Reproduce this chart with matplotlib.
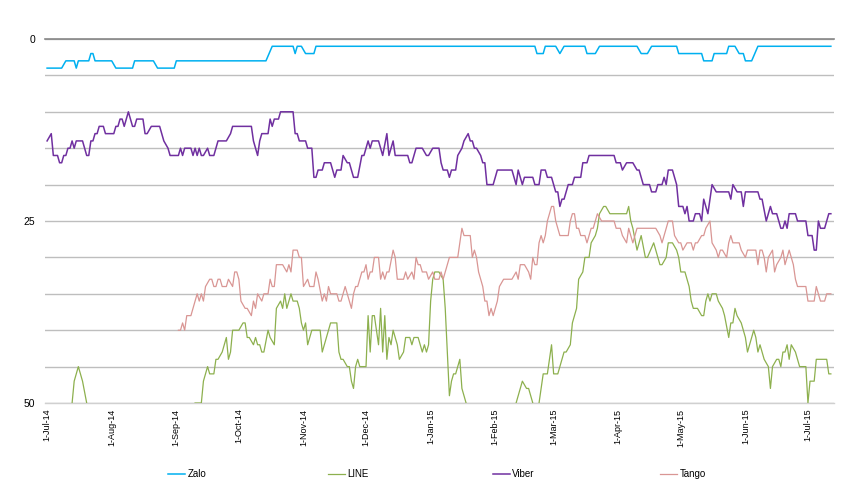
import numpy as np
import pandas as pd
import matplotlib
matplotlib.use("Agg")
import matplotlib.pyplot as plt

plt.rcParams['font.family'] = ['Liberation Sans', 'DejaVu Sans']

start = pd.Timestamp('2014-07-01')
end_day = 377.5

# ---- data: day offsets from 1-Jul-2014 and ranks ----
zalo_days = [0, 7, 9, 13, 14, 15, 20, 21, 22, 23, 31, 33, 41, 42, 51, 53, 61, 62, 105, 108, 118, 119, 120, 122,
             124, 128, 129, 234, 235, 238, 239, 244, 246, 248, 258, 259, 263, 265, 283, 285, 288, 290, 302, 303,
             314, 315, 319, 320, 326, 327, 330, 332, 334, 335, 338, 341, 376]
zalo_rank = [4, 4, 3, 3, 4, 3, 3, 2, 2, 3, 3, 4, 4, 3, 3, 4, 4, 3, 3, 1, 1, 2, 1, 1,
             2, 2, 1, 1, 2, 2, 1, 1, 2, 1, 1, 2, 2, 1, 1, 2, 2, 1, 1, 2,
             2, 3, 3, 2, 2, 1, 1, 2, 2, 3, 3, 1, 1]

viber_days = [0, 2, 3, 5, 6, 7, 8, 9, 10, 11, 12, 13, 14, 17, 19, 20, 21, 22, 23, 24, 25, 27, 28, 32, 33, 34, 35,
              36, 37, 38, 39, 41, 42, 43, 46, 47, 48, 50, 54, 55, 56, 58, 59, 63, 64, 65, 66, 69, 70, 71, 72, 73,
              74, 75, 77, 78, 80, 82, 86, 88, 89, 98, 99, 101, 102, 103, 106, 107, 108, 109, 111, 112, 118, 119,
              120, 121, 124, 125, 127, 128, 129, 130, 132, 133, 136, 138, 139, 141, 142, 144, 145, 147, 149, 151,
              152, 153, 154, 155, 156, 159, 160, 161, 163, 164, 166, 167, 173, 174, 175, 177, 180, 182, 183, 185,
              188, 189, 190, 192, 193, 194, 196, 197, 199, 200, 202, 203, 204, 205, 206, 208, 209, 210, 211, 214,
              216, 223, 225, 226, 228, 229, 233, 234, 236, 237, 239, 240, 242, 243, 244, 245, 246, 247, 248, 250,
              252, 253, 256, 257, 259, 260, 272, 273, 275, 276, 278, 281, 283, 284, 286, 289, 290, 292, 293, 295,
              296, 297, 298, 300, 302, 303, 305, 306, 307, 308, 310, 311, 313, 314, 315, 317, 319, 321, 327, 328,
              329, 331, 333, 334, 335, 341, 342, 343, 345, 347, 348, 350, 352, 353, 354, 355, 356, 359, 360, 364,
              365, 367, 368, 369, 370, 371, 373, 375, 376]
viber_rank = [14, 13, 16, 16, 17, 17, 16, 16, 15, 15, 14, 15, 14, 14, 16, 16, 14, 14, 13, 13, 12, 12, 13, 13, 12, 12, 11,
              11, 12, 11, 10, 12, 12, 11, 11, 13, 13, 12, 12, 13, 14, 15, 16, 16, 15, 16, 15, 15, 16, 15, 16, 15,
              16, 16, 15, 16, 16, 14, 14, 13, 12, 12, 14, 16, 14, 13, 13, 11, 12, 11, 11, 10, 10, 13,
              13, 14, 14, 15, 15, 19, 19, 18, 18, 17, 17, 19, 18, 18, 16, 17, 17, 19, 19, 16,
              16, 15, 14, 15, 14, 14, 15, 16, 13, 16, 14, 16, 16, 17, 17, 15, 15, 16, 16, 15,
              15, 17, 18, 18, 19, 18, 18, 16, 15, 14, 13, 14, 14, 15, 15, 16, 17, 17, 20, 20,
              18, 18, 20, 18, 20, 19, 19, 20, 20, 18, 18, 19, 19, 20, 21, 21, 23, 22, 22, 20,
              20, 19, 19, 17, 17, 16, 16, 17, 17, 18, 17, 17, 18, 18, 20, 20, 21, 21, 20, 20,
              19, 20, 18, 18, 20, 23, 23, 24, 23, 25, 25, 24, 24, 25, 22, 24, 20, 21, 21, 22,
              20, 21, 21, 23, 21, 21, 22, 22, 25, 23, 24, 24, 26, 26, 25, 26, 24, 24, 25, 25,
              27, 27, 29, 29, 25, 26, 26, 24, 24]

tango_days = [63, 64, 65, 66, 67, 69, 71, 72, 73, 74, 75, 76, 78, 79, 80, 81, 82, 83, 84, 86, 87, 89, 90, 91, 92, 93,
              95, 96, 98, 99, 100, 101, 103, 104, 106, 107, 108, 109, 110, 113, 115, 116, 117, 118, 120, 121, 122,
              123, 125, 126, 128, 129, 130, 132, 133, 134, 135, 136, 139, 140, 141, 143, 144, 146, 147, 148, 149,
              151, 152, 153, 154, 155, 156, 157, 159, 160, 161, 162, 163, 164, 166, 167, 168, 171, 172, 173, 175,
              176, 177, 178, 179, 180, 182, 183, 185, 186, 188, 189, 190, 192, 193, 197, 199, 200, 203, 204, 205,
              206, 207, 209, 210, 211, 212, 213, 214, 216, 217, 219, 220, 223, 225, 226, 227, 229, 231, 232, 233,
              234, 235, 236, 237, 238, 239, 240, 242, 243, 244, 246, 250, 251, 252, 253, 254, 255, 256, 258, 259,
              261, 262, 263, 264, 266, 272, 273, 275, 276, 278, 279, 281, 283, 292, 294, 295, 297, 298, 300, 301,
              303, 304, 305, 307, 309, 310, 311, 312, 314, 315, 316, 318, 319, 321, 322, 323, 324, 326, 327, 328,
              329, 332, 333, 335, 336, 340, 341, 342, 343, 344, 345, 346, 348, 349, 350, 352, 353, 354, 355, 356,
              358, 359, 360, 364, 365, 368, 369, 371, 373, 374, 376]
tango_rank = [40, 40, 39, 40, 38, 38, 36, 35, 36, 35, 36, 34, 33, 33, 34, 34, 33, 33, 34, 34, 33, 34, 32, 32, 33, 36,
              37, 37, 38, 36, 37, 35, 36, 35, 35, 33, 34, 34, 31, 31, 32, 31, 32, 29, 29, 30, 30,
              34, 33, 34, 34, 32, 33, 36, 35, 36, 34, 35, 35, 36, 36, 34, 35, 37, 35, 34, 34,
              32, 32, 31, 33, 32, 32, 30, 30, 33, 32, 33, 32, 32, 29, 30, 33, 33, 32, 33, 32,
              33, 30, 31, 31, 32, 32, 33, 32, 33, 33, 32, 33, 31, 30, 30, 26, 27, 27, 30, 29,
              30, 32, 34, 36, 36, 38, 37, 38, 36, 34, 33, 33, 33, 32, 33, 31, 31, 32, 33, 30,
              31, 31, 28, 27, 28, 27, 25, 23, 23, 25, 27, 27, 25, 24, 24, 26, 26, 27, 27, 28,
              26, 26, 25, 24, 25, 25, 26, 26, 27, 28, 26, 28, 26, 26, 27, 28, 26, 25, 25, 27,
              28, 28, 29, 28, 28, 29, 28, 28, 27, 27, 26, 25, 28, 29, 30, 29, 29, 30, 28, 27,
              28, 28, 29, 30, 29, 29, 31, 29, 29, 30, 32, 30, 29, 32, 31, 30, 29, 31, 30, 29,
              31, 33, 34, 34, 36, 36, 34, 36, 36, 35, 35]

# LINE: None marks days when LINE was outside the top 50
line_days = [12, 13, 15, 17, 19, 20,
             71, 74, 75, 77, 78, 80, 81, 82, 84, 85, 86, 87, 88, 89, 92, 94, 95, 96, 97, 99, 100, 101, 102, 103,
             104, 106, 107, 109, 110, 112, 113, 114, 115, 117, 118, 120, 121, 122, 123, 124, 125, 127, 131, 132,
             134, 136, 139, 140, 141, 142, 144, 145, 146, 147, 148, 149, 150, 153, 154, 155, 156, 157, 159, 160,
             161, 162, 163, 164, 165, 166, 168, 169, 171, 172, 174, 175, 176, 178, 180, 181, 182, 183, 184, 185,
             186, 188, 190, 191, 192, 193, 194, 195, 196, 198, 199, 200, 201, 202,
             225, 226, 228, 230, 231, 233, 234,
             236, 238, 240, 242, 243, 245, 246, 248, 249, 251, 252, 254, 255, 257, 258, 260, 261, 263, 264, 265,
             267, 268, 270, 278, 279, 280, 281, 283, 284, 285, 287, 288, 291, 293, 294, 295, 297, 298, 300, 302,
             303, 304, 306, 307, 308, 309, 310, 312, 314, 315, 316, 317, 318, 319, 321, 322, 324, 325, 327, 328,
             329, 330, 331, 333, 335, 336, 338, 339, 340, 341, 342, 343, 344, 346, 347, 348, 350, 351, 352, 353,
             354, 355, 356, 357, 359, 360, 361, 364, 365, 366, 368, 369, 374, 375, 376]
line_rank = [50, 47, 45, 47, 50, None,
             50, 50, 47, 45, 46, 46, 44, 44, 43, 42, 41, 44, 43, 40, 40, 39, 39, 41, 41, 42, 41, 42, 42, 43,
             43, 40, 41, 42, 37, 36, 37, 35, 37, 35, 36, 36, 37, 39, 40, 39, 42, 40, 40, 43,
             41, 39, 39, 43, 44, 44, 45, 45, 47, 48, 45, 44, 45, 45, 38, 43, 38, 38, 42, 37,
             43, 38, 44, 41, 42, 40, 42, 44, 43, 41, 41, 42, 41, 41, 43, 42, 43, 42, 36, 33,
             32, 32, 33, 37, 43, 49, 47, 46, 46, 44, 48, 49, 50, None,
             50, 49, 47, 48, 48, 50, None,
             50, 46, 46, 42, 46, 46, 45, 43, 43, 42, 39, 37, 33, 32, 30, 30, 28, 27, 26, 24,
             23, 23, 24, 24, 23, 25, 26, 29, 28, 27, 30, 30, 28, 30, 31, 31, 30, 28, 28, 29,
             30, 32, 32, 33, 34, 36, 37, 37, 38, 38, 36, 35, 36, 35, 35, 36, 37, 38, 41, 39,
             39, 37, 38, 39, 41, 43, 41, 40, 41, 43, 42, 43, 44, 45, 48, 45, 44, 44, 45, 43,
             43, 42, 44, 42, 43, 44, 45, 45, 50, 47, 47, 44, 44, 46, 46]

series = [
    ("Zalo", zalo_days, zalo_rank, "#00B0F0", 1.1),
    ("LINE", line_days, line_rank, "#8DB04E", 0.9),
    ("Viber", viber_days, viber_rank, "#7030A0", 1.1),
    ("Tango", tango_days, tango_rank, "#D99694", 0.9),
]

tick_dates = pd.date_range('2014-07-01', '2015-07-01', freq='MS')
tick_labels = ['1-Jul-14', '1-Aug-14', '1-Sep-14', '1-Oct-14', '1-Nov-14', '1-Dec-14', '1-Jan-15',
               '1-Feb-15', '1-Mar-15', '1-Apr-15', '1-May-15', '1-Jun-15', '1-Jul-15']
y_ticks = list(range(0, 55, 5))
y_labels = ['0', '', '', '', '', '25', '', '', '', '', '50']

fig = plt.figure(figsize=(8.6, 5.01), dpi=100)
ax = fig.add_axes([45 / 860, 1 - 403 / 501, (834 - 45) / 860, (403 - 39) / 501])

handles = []
for name, d, r, c, lw in series:
    dates = start + pd.to_timedelta(d, unit='D')
    vals = np.array([np.nan if v is None else v for v in r], dtype=float)
    h, = ax.plot(dates, vals, color=c, lw=lw, label=name, solid_joinstyle='round', zorder=3)
    handles.append(h)

ax.set_xlim(start - pd.Timedelta(days=1), start + pd.Timedelta(days=end_day))
ax.set_ylim(50, 0)
ax.set_yticks(y_ticks)
ax.set_yticklabels(y_labels, fontsize=7.5)
ax.set_xticks(tick_dates)
ax.set_xticklabels(tick_labels, rotation=90, fontsize=6.5, va='top', ha='center')
ax.tick_params(axis='both', length=0)
ax.tick_params(axis='y', pad=7)
ax.tick_params(axis='x', pad=4)
ax.grid(axis='y', color='#BEBEBE', lw=1.0, zorder=0)
ax.grid(axis='x', visible=False)
for s in ax.spines.values():
    s.set_visible(False)
ax.axhline(0, color='#868686', lw=1.2, zorder=1, clip_on=False)
ax.axhline(50, color='#D0D0D0', lw=1.0, zorder=1, clip_on=False)
ax.set_axisbelow(True)

legend_x = [168, 328, 493, 660]
for h, lx in zip(handles, legend_x):
    fig.legend(handles=[h], labels=[h.get_label()], loc='center left',
               bbox_to_anchor=(lx / 860, 1 - 474 / 501), frameon=False, fontsize=7,
               handlelength=1.75, handletextpad=0.25, borderpad=0, borderaxespad=0)

fig.savefig('out.png', dpi=100)
